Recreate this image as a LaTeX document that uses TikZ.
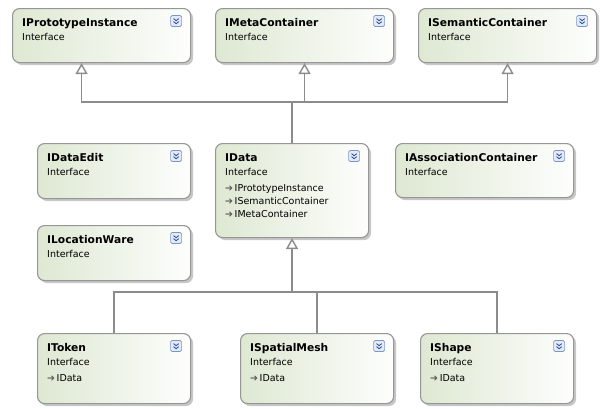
\documentclass[tikz,border=0pt]{standalone}
\usepackage{fontspec}
\setmainfont{DejaVu Sans}
\usetikzlibrary{arrows.meta,shadows}
\definecolor{boxgreen}{RGB}{222,232,210}
\definecolor{boxline}{RGB}{150,150,150}
\definecolor{wiregray}{RGB}{140,140,140}
\definecolor{btnfill}{RGB}{226,234,248}
\definecolor{btnline}{RGB}{125,150,200}
\definecolor{btnchev}{RGB}{55,85,160}
\tikzstyle{iface}=[rectangle,rounded corners=7pt,draw=boxline,line width=1.1pt,left color=boxgreen,right color=white!96!boxgreen,drop shadow={shadow xshift=2.5pt,shadow yshift=-2.5pt,fill=black!22,opacity=1},anchor=north west,inner sep=0pt]
\tikzstyle{title}=[anchor=base west,inner sep=0pt,font=\fontsize{10.7}{12}\selectfont\bfseries]
\tikzstyle{kind}=[anchor=base west,inner sep=0pt,font=\fontsize{9.5}{11}\selectfont]
\tikzstyle{member}=[kind]
\tikzstyle{expander}=[rectangle,rounded corners=1.5pt,draw=btnline,fill=btnfill,minimum size=11pt,inner sep=0pt,line width=0.6pt]
\tikzstyle{chevron}=[draw=btnchev,line width=0.9pt]
\tikzstyle{wire}=[draw=wiregray,line width=1.4pt]
\tikzstyle{inherit}=[wire,-{Triangle[width=12pt,length=11pt,fill=white]}]
\newcommand{\implarrow}{{\color{black!65}\fontsize{9.5}{11}\selectfont ➔}\,}

\begin{document}
\begin{tikzpicture}[x=1pt,y=-1pt]
  \useasboundingbox (0,0) rectangle (601,408);

  % First we draw the interfaces
  \foreach \name/\x/\y/\w/\h/\txt in {pi/12/8/178/54/IPrototypeInstance, mc/215/8/178/54/IMetaContainer,
                                      sc/418/8/178/54/ISemanticContainer, de/37/143/153/55/IDataEdit,
                                      da/215/143/153/94/IData, ac/395/143/178/54/IAssociationContainer,
                                      lw/37/225/153/55/ILocationWare, tk/37/333/153/70/IToken,
                                      sm/240/333/153/70/ISpatialMesh, sh/420/333/153/70/IShape}
  {
    \node[iface,minimum width=\w,minimum height=\h] (\name) at (\x,\y) {};
    \node[title] (\name-t) at ([shift={(10pt,-18pt)}]\name.north west) {\txt};
    \node[kind] (\name-k) at ([shift={(10pt,-32pt)}]\name.north west) {Interface};
    \node[expander] (\name-b) at ([shift={(-15pt,-13pt)}]\name.north east) {};
    \draw[chevron] ([shift={(-2.6pt,2.4pt)}]\name-b.center) -- ++(2.6pt,-2.1pt) -- ++(2.6pt,2.1pt);
    \draw[chevron] ([shift={(-2.6pt,-0.6pt)}]\name-b.center) -- ++(2.6pt,-2.1pt) -- ++(2.6pt,2.1pt);
  }

  % Inherited members
  \foreach \name/\dy/\txt in {da/48/IPrototypeInstance, da/61/ISemanticContainer, da/74/IMetaContainer,
                              tk/48/IData, sm/48/IData, sh/48/IData}
    \node[member] at ([shift={(10pt,-\dy pt)}]\name.north west) {\implarrow\txt};

  % Connect the interfaces with inheritance lines
  \coordinate (upbus) at (da.north |- 0,102);
  \coordinate (downbus) at (da.south |- 0,292);
  \draw[wire] (da.north) -- (upbus);
  \draw[inherit] (upbus) -| ([xshift=-20pt]pi.south);
  \foreach \dest in {mc,sc}
    \draw[inherit] (upbus) -| (\dest.south);

  \draw[inherit] (downbus) -- (da.south);
  \foreach \source in {tk,sm,sh}
    \draw[wire] (\source.north) |- (downbus);
\end{tikzpicture}
\end{document}
